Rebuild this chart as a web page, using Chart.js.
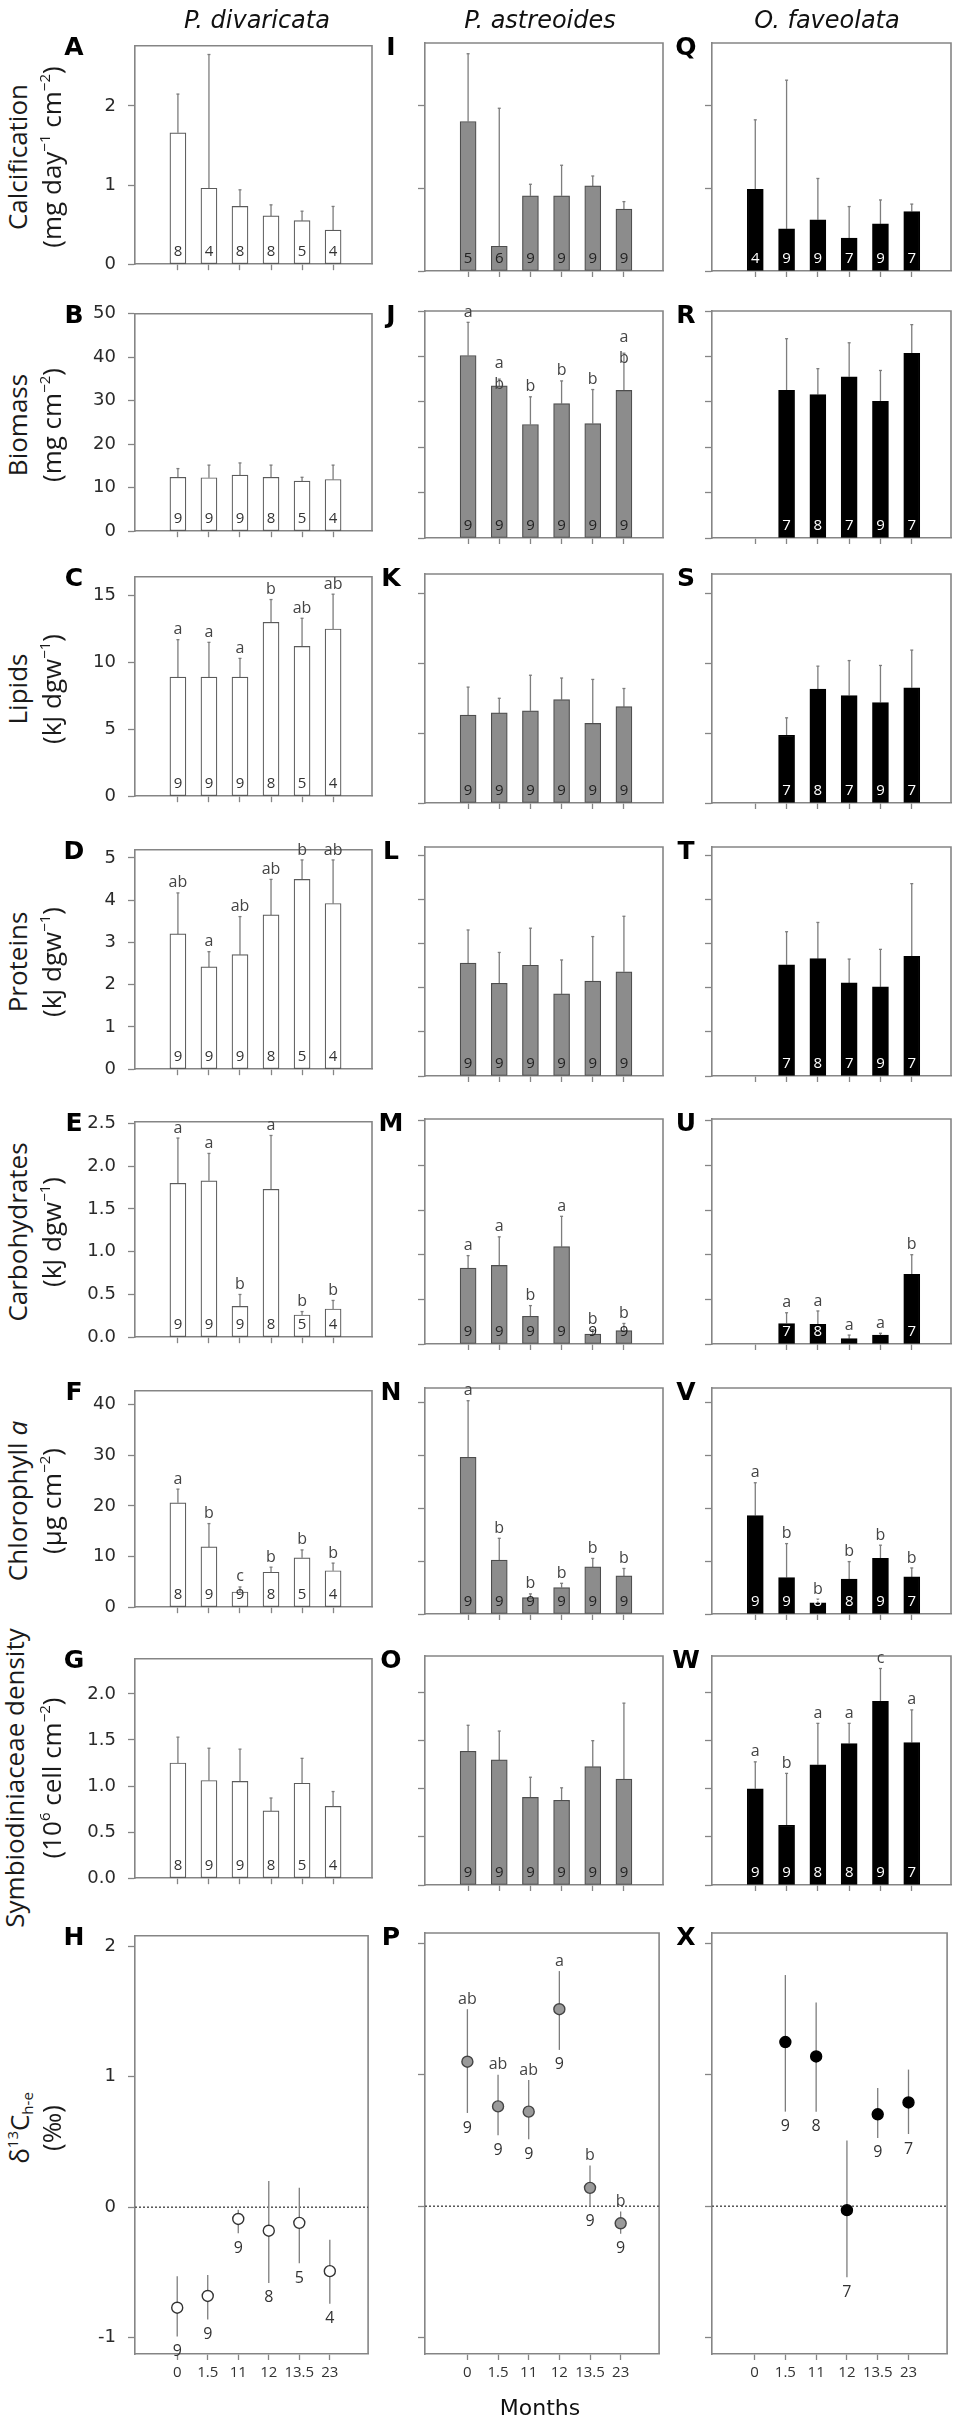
<!DOCTYPE html>
<html><head><meta charset="utf-8">
<script src="https://cdn.jsdelivr.net/npm/chart.js@4.4.1/dist/chart.umd.min.js"></script>
<style>
html,body{margin:0;padding:0;background:#fff;}
body{width:955px;height:2421px;position:relative;overflow:hidden;}
.panel{position:absolute;z-index:1;}
.lbl{position:absolute;white-space:nowrap;z-index:5;line-height:1;color:#111;}
.ytl{font-family:"Open Sans",sans-serif;font-size:26px;color:#1a1a1a;}
.ytl sup{font-size:15px;vertical-align:0.75em;line-height:0;}
.ytl sub{font-size:15px;vertical-align:-0.25em;line-height:0;}
.plet{font-family:"DejaVu Sans",sans-serif;font-weight:bold;font-size:25px;color:#000;}
.ttl{font-family:"DejaVu Sans",sans-serif;font-style:italic;font-size:24px;color:#111;}
</style></head><body>
<script>
// ---------- categories ----------
const months = ['0','1.5','11','12','13.5','23'];
const species = ['P. divaricata','P. astreoides','O. faveolata'];

// ---------- A/I/Q Calcification ----------
const calcTicks = [0,1,2];
const calcDiv = [1.66,0.96,0.73,0.61,0.55,0.43];
const calcDivHi = [2.15,2.65,0.94,0.75,0.67,0.73];
const calcDivN = [8,4,8,8,5,4];
const calcAst = [1.81,0.30,0.91,0.91,1.03,0.75];
const calcAstHi = [2.63,1.97,1.05,1.28,1.15,0.84];
const calcAstN = [5,6,9,9,9,9];
const calcFav = [0.99,0.51,0.62,0.40,0.57,0.72];
const calcFavHi = [1.83,2.31,1.12,0.78,0.86,0.81];
const calcFavN = [4,9,9,7,9,7];

// ---------- B/J/R Biomass ----------
const bioTicks = [0,10,20,30,40,50];
const bioDiv = [12.4,12.3,12.9,12.4,11.5,11.9];
const bioDivHi = [14.4,15.2,15.7,15.2,12.4,15.2];
const bioDivN = [9,9,9,8,5,4];
const bioAst = [40.2,33.5,25.0,29.6,25.2,32.5];
const bioAstHi = [47.5,35.0,31.1,34.6,32.7,40.7];
const bioAstN = [9,9,9,9,9,9];
const bioAstSig = ['a','a/b','b','b','b','a/b'];
const bioFav = [null,32.5,31.6,35.5,30.1,40.7];
const bioFavHi = [null,43.9,37.3,43.0,36.9,47.0];
const bioFavN = [null,7,8,7,9,7];

// ---------- C/K/S Lipids ----------
const lipTicks = [0,5,10,15];
const lipDiv = [8.9,8.9,8.9,13.0,11.2,12.5];
const lipDivHi = [11.7,11.5,10.3,14.7,13.3,15.1];
const lipDivN = [9,9,9,8,5,4];
const lipDivSig = ['a','a','a','b','ab','ab'];
const lipAst = [6.3,6.45,6.6,7.4,5.7,6.9];
const lipAstHi = [8.3,7.5,9.15,8.95,8.85,8.2];
const lipAstN = [9,9,9,9,9,9];
const lipFav = [null,4.85,8.15,7.7,7.2,8.25];
const lipFavHi = [null,6.1,9.8,10.2,9.85,10.95];
const lipFavN = [null,7,8,7,9,7];

// ---------- D/L/T Proteins ----------
const proTicks = [0,1,2,3,4,5];
const proDiv = [3.20,2.42,2.71,3.65,4.49,3.92];
const proDivHi = [4.17,2.78,3.61,4.49,4.95,4.95];
const proDivN = [9,9,9,8,5,4];
const proDivSig = ['ab','a','ab','ab','b','ab'];
const proAst = [2.56,2.10,2.51,1.86,2.15,2.36];
const proAstHi = [3.31,2.80,3.35,2.63,3.16,3.62];
const proAstN = [9,9,9,9,9,9];
const proFav = [null,2.52,2.66,2.11,2.02,2.71];
const proFavHi = [null,3.27,3.48,2.65,2.87,4.36];
const proFavN = [null,7,8,7,9,7];

// ---------- E/M/U Carbohydrates ----------
const carTicks = [0,0.5,1,1.5,2,2.5];
const carDiv = [1.80,1.83,0.36,1.73,0.26,0.33];
const carDivHi = [2.33,2.15,0.50,2.36,0.30,0.43];
const carDivN = [9,9,9,8,5,4];
const carDivSig = ['a','a','b','a','b','b'];
const carAst = [0.85,0.88,0.31,1.09,0.11,0.15];
const carAstHi = [0.99,1.20,0.43,1.43,0.16,0.23];
const carAstN = [9,9,9,9,9,9];
const carAstSig = ['a','a','b','a','b','b'];
const carFav = [null,0.23,0.22,0.06,0.10,0.78];
const carFavHi = [null,0.35,0.37,0.10,0.12,1.00];
const carFavN = [null,7,8,null,null,7];
const carFavSig = [null,'a','a','a','a','b'];

// ---------- F/N/V Chlorophyll a ----------
const chlTicks = [0,10,20,30,40];
const chlDiv = [20.6,11.9,3.0,6.9,9.75,7.2];
const chlDivHi = [23.3,16.5,4.0,7.9,11.3,8.7];
const chlDivN = [8,9,9,8,5,4];
const chlDivSig = ['a','b','c','b','b','b'];
const chlAst = [29.6,10.2,3.1,5.0,8.9,7.2];
const chlAstHi = [40.3,14.3,3.8,5.8,10.5,8.6];
const chlAstN = [9,9,9,9,9,9];
const chlAstSig = ['a','b','b','b','b','b'];
const chlFav = [18.6,6.9,2.1,6.6,10.5,7.0];
const chlFavHi = [24.8,13.3,2.8,9.9,13.0,8.7];
const chlFavN = [9,9,8,8,9,7];
const chlFavSig = ['a','b','b','b','b','b'];

// ---------- G/O/W Symbiodiniaceae density ----------
const symTicks = [0,0.5,1,1.5,2];
const symDiv = [1.25,1.06,1.05,0.73,1.03,0.78];
const symDivHi = [1.53,1.41,1.40,0.87,1.30,0.94];
const symDivN = [8,9,9,8,5,4];
const symAst = [1.39,1.30,0.91,0.88,1.23,1.10];
const symAstHi = [1.66,1.60,1.12,1.01,1.50,1.89];
const symAstN = [9,9,9,9,9,9];
const symFav = [1.00,0.62,1.25,1.47,1.91,1.48];
const symFavHi = [1.28,1.16,1.68,1.68,2.25,1.82];
const symFavN = [9,9,8,8,9,7];
const symFavSig = ['a','b','a','a','c','a'];

// ---------- H/P/X d13C h-e ----------
const d13Ticks = [-1,0,1,2];
const d13Div = [-0.77,-0.68,-0.09,-0.18,-0.12,-0.49];
const d13DivLo = [-0.99,-0.86,-0.20,-0.58,-0.43,-0.74];
const d13DivHi = [-0.53,-0.52,-0.02,0.20,0.15,-0.25];
const d13DivN = [9,9,9,8,5,4];
const d13Ast = [1.10,0.76,0.72,1.50,0.14,-0.13];
const d13AstLo = [0.71,0.54,0.51,1.19,0.0,-0.21];
const d13AstHi = [1.50,1.00,0.96,1.79,0.31,-0.04];
const d13AstN = [9,9,9,9,9,9];
const d13AstSig = ['ab','ab','ab','a','b','b'];
const d13Fav = [null,1.25,1.14,-0.03,0.70,0.79];
const d13FavLo = [null,0.72,0.72,-0.54,0.52,0.55];
const d13FavHi = [null,1.76,1.55,0.50,0.90,1.04];
const d13FavN = [null,9,8,7,9,7];

// ---------- layout / style ----------
const colL = [135,425,712], colR = [372,663,951];
const titleX = [257,540,827];
const letterX = [74,391,686];
const AXIS = '#858585', ERR = '#7d7d7d';
const colStyle = [
  {fill:'#ffffff', border:'#5a5a5a', nColor:'#333333', point:'#ffffff', pBorder:'#333333'},
  {fill:'#8c8c8c', border:'#4d4d4d', nColor:'#222222', point:'#9a9a9a', pBorder:'#444444'},
  {fill:'#000000', border:'#000000', nColor:'#ffffff', point:'#000000', pBorder:'#000000'}
];

const rows = [
 {top:43, bottom:271, min:0, max:2.76, ticks:calcTicks, dec:0, kind:'bar', letters:['A','I','Q'],
  t1:'Calcification', t2:'(mg day<sup>−1</sup> cm<sup>−2</sup>)', tx:[17,51],
  series:[{v:calcDiv,hi:calcDivHi,n:calcDivN},{v:calcAst,hi:calcAstHi,n:calcAstN},{v:calcFav,hi:calcFavHi,n:calcFavN}]},
 {top:311, bottom:538, min:0, max:50, ticks:bioTicks, dec:0, kind:'bar', letters:['B','J','R'],
  t1:'Biomass', t2:'(mg cm<sup>−2</sup>)', tx:[17,51],
  series:[{v:bioDiv,hi:bioDivHi,n:bioDivN},{v:bioAst,hi:bioAstHi,n:bioAstN,sig:bioAstSig},{v:bioFav,hi:bioFavHi,n:bioFavN}]},
 {top:574, bottom:803, min:0, max:16.4, ticks:lipTicks, dec:0, kind:'bar', letters:['C','K','S'],
  t1:'Lipids', t2:'(kJ dgw<sup>−1</sup>)', tx:[17,51],
  series:[{v:lipDiv,hi:lipDivHi,n:lipDivN,sig:lipDivSig},{v:lipAst,hi:lipAstHi,n:lipAstN},{v:lipFav,hi:lipFavHi,n:lipFavN}]},
 {top:847, bottom:1076, min:0, max:5.19, ticks:proTicks, dec:0, kind:'bar', letters:['D','L','T'],
  t1:'Proteins', t2:'(kJ dgw<sup>−1</sup>)', tx:[17,51],
  series:[{v:proDiv,hi:proDivHi,n:proDivN,sig:proDivSig},{v:proAst,hi:proAstHi,n:proAstN},{v:proFav,hi:proFavHi,n:proFavN}]},
 {top:1119, bottom:1344, min:0, max:2.52, ticks:carTicks, dec:1, kind:'bar', letters:['E','M','U'],
  t1:'Carbohydrates', t2:'(kJ dgw<sup>−1</sup>)', tx:[17,51],
  series:[{v:carDiv,hi:carDivHi,n:carDivN,sig:carDivSig},{v:carAst,hi:carAstHi,n:carAstN,sig:carAstSig},{v:carFav,hi:carFavHi,n:carFavN,sig:carFavSig}]},
 {top:1388, bottom:1614, min:0, max:42.7, ticks:chlTicks, dec:0, kind:'bar', letters:['F','N','V'],
  t1:'Chlorophyll <i>a</i>', t2:'(µg cm<sup>−2</sup>)', tx:[17,51],
  series:[{v:chlDiv,hi:chlDivHi,n:chlDivN,sig:chlDivSig},{v:chlAst,hi:chlAstHi,n:chlAstN,sig:chlAstSig},{v:chlFav,hi:chlFavHi,n:chlFavN,sig:chlFavSig}]},
 {top:1656, bottom:1885, min:0, max:2.38, ticks:symTicks, dec:1, kind:'bar', letters:['G','O','W'],
  t1:'Symbiodiniaceae density', t2:'(10<sup>6</sup> cell cm<sup>−2</sup>)', tx:[14,51], ty:1778,
  series:[{v:symDiv,hi:symDivHi,n:symDivN},{v:symAst,hi:symAstHi,n:symAstN},{v:symFav,hi:symFavHi,n:symFavN,sig:symFavSig}]},
 {top:1933, bottom:2354, min:-1.125, max:2.08, ticks:d13Ticks, dec:0, kind:'point', letters:['H','P','X'],
  t1:'δ<sup>13</sup>C<sub>h-e</sub>', t2:'(‰)', tx:[19,51], ty:2128,
  series:[{v:d13Div,lo:d13DivLo,hi:d13DivHi,n:d13DivN},{v:d13Ast,lo:d13AstLo,hi:d13AstHi,n:d13AstN,sig:d13AstSig},{v:d13Fav,lo:d13FavLo,hi:d13FavHi,n:d13FavN}]}
];

const X_MIN = -1.383, X_MAX = 6.254;

function addText(html, cx, cy, cls, rotate){
  const el = document.createElement('div');
  el.className = 'lbl ' + cls;
  el.innerHTML = html;
  el.style.left = cx + 'px';
  el.style.top = cy + 'px';
  el.style.transform = 'translate(-50%,-50%)' + (rotate ? ' rotate(-90deg)' : '');
  document.body.appendChild(el);
  return el;
}

function makePanel(row, ri, ci){
  const isLast = ri === rows.length - 1;
  const L = 70, R = 3, T = 20, B = isLast ? 45 : 16;
  const left = colL[ci], right = colR[ci];
  const W = right - left + L + R, H = row.bottom - row.top + T + B;
  const div = document.createElement('div');
  div.className = 'panel';
  div.style.left = (left - L) + 'px';
  div.style.top = (row.top - T) + 'px';
  div.style.width = W + 'px';
  div.style.height = H + 'px';
  const cv = document.createElement('canvas');
  cv.width = W; cv.height = H;
  cv.style.width = W + 'px'; cv.style.height = H + 'px';
  div.appendChild(cv);
  document.body.appendChild(div);

  const s = row.series[ci];
  const st = colStyle[ci];
  const pts = [];
  s.v.forEach((v, i) => { if (v !== null) pts.push({x: i, y: v}); });

  const annot = {
    id: 'annot',
    beforeDatasetsDraw(chart){
      const {ctx, chartArea: a, scales: {x, y}} = chart;
      ctx.save();
      ctx.strokeStyle = AXIS; ctx.lineWidth = 1.6;
      ctx.beginPath();
      ctx.moveTo(a.left, a.top); ctx.lineTo(a.right, a.top); ctx.lineTo(a.right, a.bottom);
      ctx.stroke();
      if (row.kind === 'point'){
        const y0 = y.getPixelForValue(0);
        ctx.save();
        ctx.setLineDash([2, 2]);
        ctx.strokeStyle = '#555'; ctx.lineWidth = 1.5;
        ctx.beginPath(); ctx.moveTo(a.left, y0); ctx.lineTo(a.right, y0); ctx.stroke();
        ctx.restore();
      }
      ctx.strokeStyle = ERR; ctx.lineWidth = 1.3;
      pts.forEach(p => {
        const px = x.getPixelForValue(p.x);
        const yh = y.getPixelForValue(s.hi[p.x]);
        const yl = y.getPixelForValue(s.lo ? s.lo[p.x] : p.y);
        ctx.beginPath(); ctx.moveTo(px, yl); ctx.lineTo(px, yh); ctx.stroke();
        if (row.kind === 'bar'){
          ctx.beginPath(); ctx.moveTo(px - 1.5, yh); ctx.lineTo(px + 1.5, yh); ctx.stroke();
        }
      });
      ctx.restore();
    },
    afterDatasetsDraw(chart){
      const {ctx, scales: {x, y}} = chart;
      ctx.save();
      ctx.textAlign = 'center';
      ctx.textBaseline = 'middle';
      pts.forEach(p => {
        const px = x.getPixelForValue(p.x);
        const nv = s.n[p.x];
        if (nv !== null && nv !== undefined){
          if (row.kind === 'bar'){
            ctx.font = '15px "Open Sans", sans-serif';
            ctx.fillStyle = st.nColor;
            ctx.fillText(String(nv), px, y.getPixelForValue(0) - 12);
          } else {
            ctx.fillStyle = '#333';
            ctx.font = '16px "Open Sans", sans-serif';
            ctx.fillText(String(nv), px, y.getPixelForValue(s.lo[p.x]) + 15);
          }
        }
        if (s.sig && s.sig[p.x]){
          const sg = s.sig[p.x];
          const yh = y.getPixelForValue(s.hi[p.x]);
          ctx.fillStyle = '#444';
          ctx.font = '16px "Open Sans", sans-serif';
          if (sg.indexOf('/') >= 0){
            const parts = sg.split('/');
            ctx.fillText(parts[0], px, yh - 16);
            ctx.fillText(parts[1], px, yh + 5);
          } else {
            ctx.fillText(sg, px, yh - 10);
          }
        }
      });
      ctx.restore();
    }
  };

  const dataset = row.kind === 'bar' ? {
    type: 'bar', data: pts, backgroundColor: st.fill, borderColor: st.border,
    borderWidth: 1.2, borderSkipped: false, barThickness: 16
  } : {
    type: 'scatter', data: pts, pointRadius: 5.5, pointHoverRadius: 5.5,
    pointBackgroundColor: st.point, pointBorderColor: st.pBorder, pointBorderWidth: 1.4, showLine: false
  };

  new Chart(cv, {
    type: row.kind === 'bar' ? 'bar' : 'scatter',
    data: {datasets: [dataset]},
    plugins: [annot],
    options: {
      responsive: false, animation: false, events: [],
      layout: {padding: {top: T, right: R, left: 0, bottom: 0}},
      plugins: {legend: {display: false}, tooltip: {enabled: false}, title: {display: false}},
      scales: {
        x: {
          type: 'linear', position: 'bottom', min: X_MIN, max: X_MAX, offset: false,
          afterFit: (sc) => { sc.height = B; },
          afterBuildTicks: (ax) => { ax.ticks = months.map((m, i) => ({value: i})); },
          ticks: {display: isLast, autoSkip: false, maxRotation: 0, padding: 4,
                  callback: (v, i) => months[i], color: '#333',
                  font: {family: '"Open Sans", sans-serif', size: 15}},
          grid: {display: true, offset: false, drawOnChartArea: false, drawTicks: true, tickLength: 6,
                 color: AXIS, tickColor: AXIS, tickWidth: 1.3},
          border: {display: true, color: AXIS, width: 1.6}
        },
        y: {
          type: 'linear', position: 'left', min: row.min, max: row.max,
          afterFit: (sc) => { sc.width = L; },
          afterBuildTicks: (ax) => { ax.ticks = row.ticks.map(v => ({value: v})); },
          ticks: {display: ci === 0, padding: 12, color: '#2a2a2a',
                  callback: (v) => row.dec ? Number(v).toFixed(1) : String(v),
                  font: {family: '"DejaVu Sans", sans-serif', size: 18}},
          grid: {display: true, drawOnChartArea: false, drawTicks: true, tickLength: 7,
                 color: AXIS, tickColor: AXIS, tickWidth: 1.3},
          border: {display: true, color: AXIS, width: 1.6}
        }
      }
    }
  });
}

rows.forEach((row, ri) => {
  for (let ci = 0; ci < 3; ci++) makePanel(row, ri, ci);
});

// ---------- text ----------
species.forEach((sp, ci) => addText(sp, titleX[ci], 20, 'ttl'));
rows.forEach(row => {
  const cy = row.ty || (row.top + row.bottom) / 2;
  addText(row.t1, row.tx[0], cy, 'ytl', true);
  addText(row.t2, row.tx[1], cy, 'ytl', true);
  row.letters.forEach((lt, ci) => addText(lt, letterX[ci], row.top + 3, 'plet'));
});
const mEl = addText('Months', 540, 2408, 'ttl');
mEl.style.fontStyle = 'normal';
mEl.style.fontSize = '22px';
</script>
</body></html>
